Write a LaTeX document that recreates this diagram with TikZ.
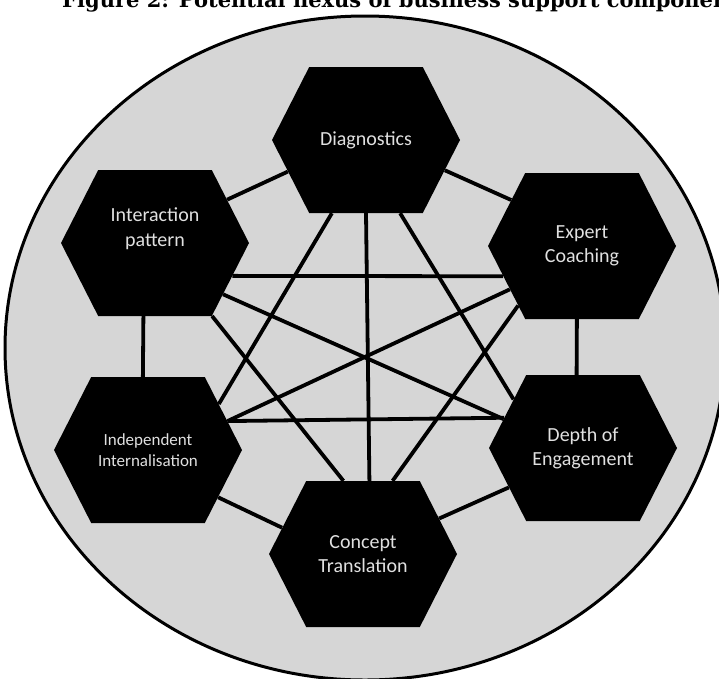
\documentclass[tikz,border=0pt]{standalone}
\usepackage{fontspec}
\setmainfont{Carlito}
\newfontfamily\titlefont{DejaVu Serif}
\usetikzlibrary{shapes.symbols}

\pgfdeclarelayer{back}
\pgfdeclarelayer{links}
\pgfsetlayers{back,links,main}

\definecolor{discfill}{RGB}{214,214,214}
\definecolor{hextext}{RGB}{224,224,224}

\tikzset{
  hexa/.style={signal, signal to=east and west, signal pointer angle=126,
    minimum width=188pt, minimum height=146pt,
    inner sep=0pt, fill=black, text=hextext, align=center,
    font=\fontsize{20}{24.4}\selectfont},
  link/.style={line width=3.8pt}
}

\begin{document}
\begin{tikzpicture}[x=1pt,y=-1pt]
  \useasboundingbox (0,0) rectangle (719,678);
  \node[anchor=base west, inner sep=0pt, font=\titlefont\bfseries\fontsize{21}{24}\selectfont] (title) at (62,7) {Figure 2: Potential nexus of business support components};

  \node[hexa] (diag) at (366,140) {Diagnostics};
  \node[hexa] (inter) at (155,243) {Interaction\\pattern\\\strut};
  \node[hexa] (expert) at (582,246) {Expert\\Coaching};
  \node[hexa, font=\fontsize{17}{21}\selectfont] (indep) at (148,450) {Independent\\Internalisation};
  \node[hexa] (depth) at (583,448) {Depth of\\Engagement};
  \node[hexa] (concept) at (363,554) {Concept\\Translation};

  \begin{pgfonlayer}{back}
    \draw[line width=3pt, fill=discfill] (365,348) ellipse [x radius=360pt, y radius=332pt];
  \end{pgfonlayer}

  \begin{pgfonlayer}{links}
    \draw[link] (inter.31) -- (diag.202);
    \draw[link] (diag.-21) -- (expert.147);
    \draw[link] (inter.-99) -- (indep.94);
    \draw[link] (expert.-94) -- (depth.95);
    \draw[link] (indep.-34) -- (concept.162);
    \draw[link] (concept.25) -- (depth.208);
    \draw[link] (diag.-115) -- (indep.33.5);
    \draw[link] (diag.-90) -- (concept.85);
    \draw[link] (diag.-65) -- (depth.145.6);
    \draw[link] (inter.-23.5) -- (expert.201.5);
    \draw[link] (inter.-37) -- (depth.160.7);
    \draw[link] (inter.-52) -- (concept.105.3);
    \draw[link] (expert.211.6) -- (indep.20.6);
    \draw[link] (expert.223.6) -- (concept.68.3);
    \draw[link] (indep.20) -- (depth.159.4);
  \end{pgfonlayer}
\end{tikzpicture}
\end{document}
